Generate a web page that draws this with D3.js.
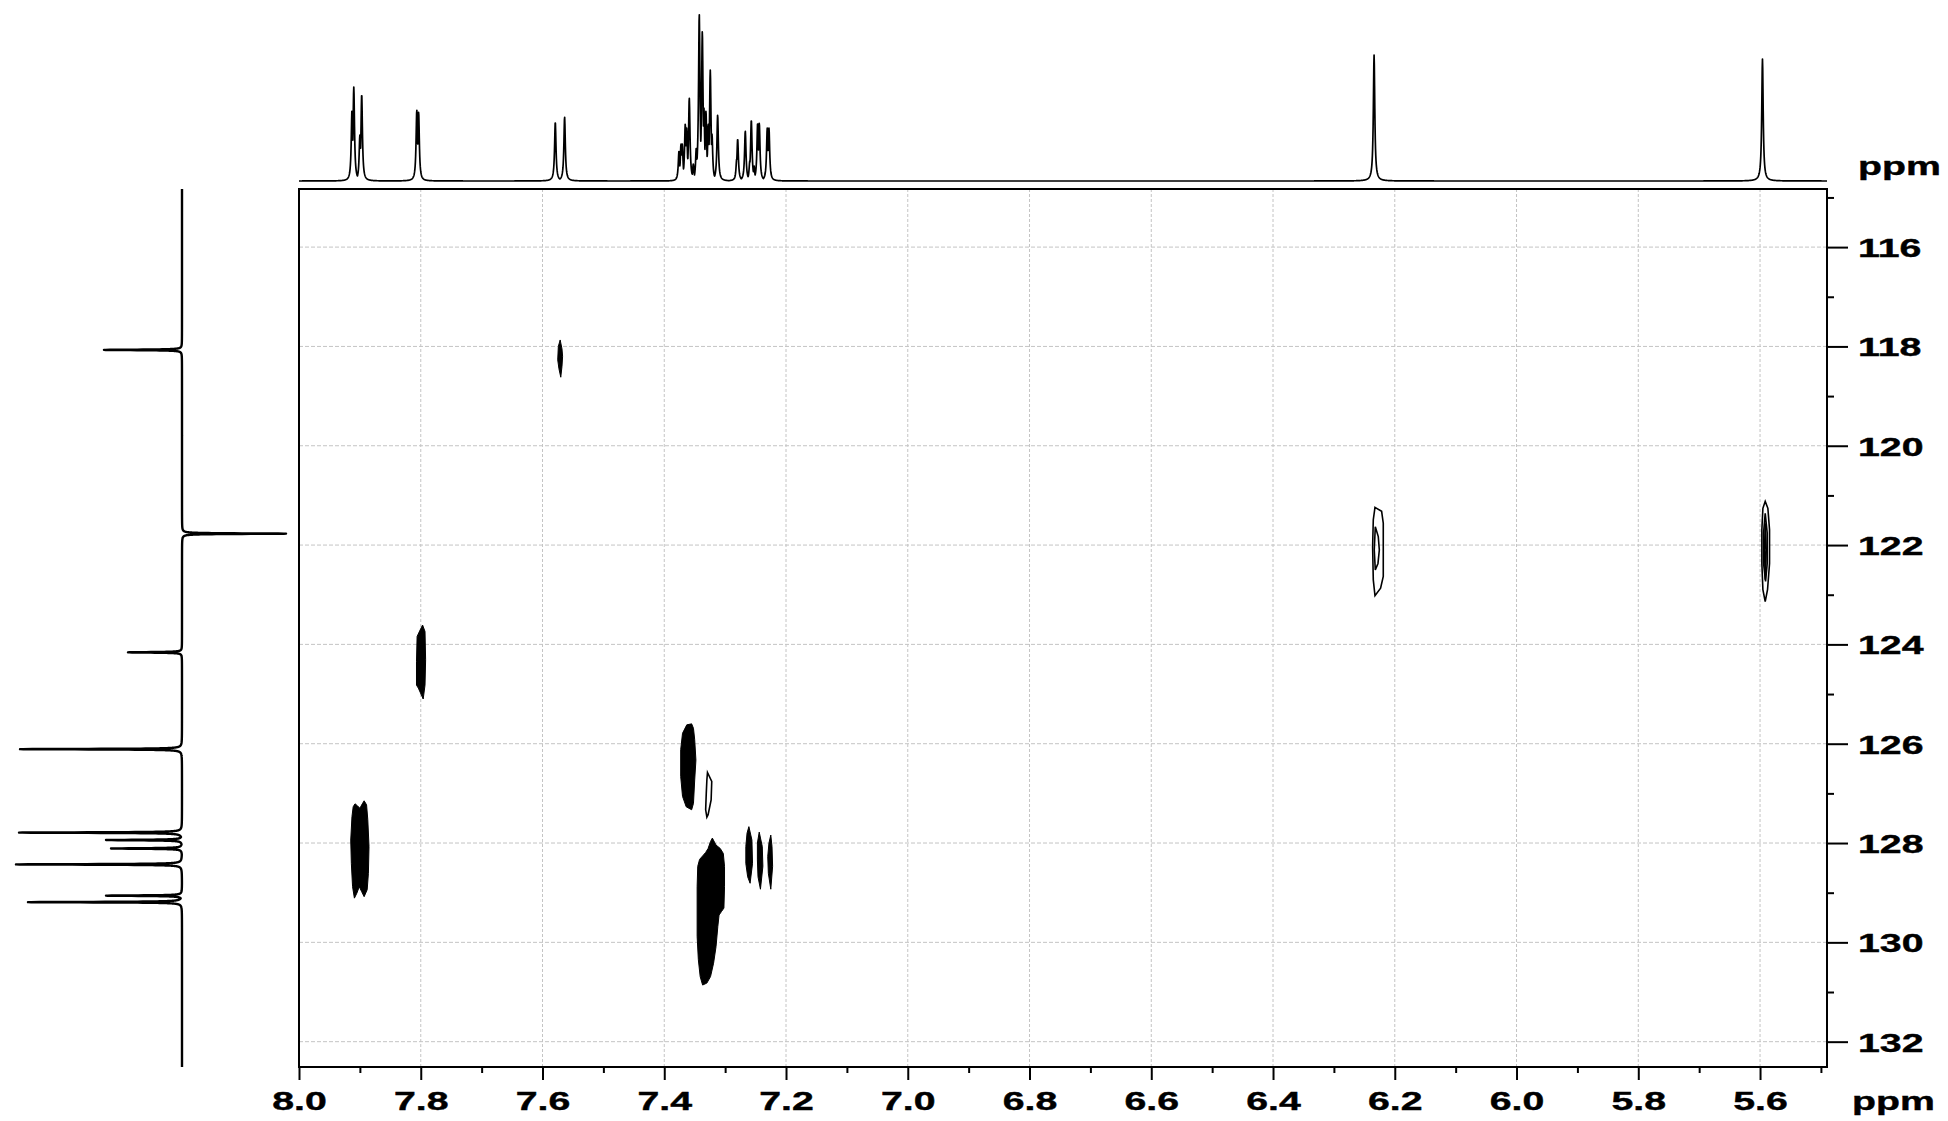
<!DOCTYPE html>
<html><head><meta charset="utf-8">
<script src="https://cdn.jsdelivr.net/npm/d3@7"></script>
<style>
html,body{margin:0;padding:0;background:#fff;}
svg{display:block;}
</style>
</head><body>
<svg id="chart" width="1948" height="1121"></svg>
<script>
// ---------- DATA ----------
const xTickValues = [8.0,7.8,7.6,7.4,7.2,7.0,6.8,6.6,6.4,6.2,6.0,5.8,5.6];
const xMinorValues = [7.9,7.7,7.5,7.3,7.1,6.9,6.7,6.5,6.3,6.1,5.9,5.7,5.5];
const yTickValues = [116,118,120,122,124,126,128,130,132];
const yMinorValues = [115,117,119,121,123,125,127,129,131];
const axisUnit = "ppm";

// 1H projection (top): [ppm, relative intensity]
const protonPeaks = [
  [7.913,71],[7.910,94],[7.900,46],[7.897,87],
  [7.8065,71],[7.8035,69],
  [7.579,59],[7.5637,64],
  [7.3758,30],[7.3725,37],[7.3704,37],[7.3655,57],[7.3632,53],[7.3589,83],
  [7.3523,17],[7.3474,33],[7.3425,167],[7.3375,150],[7.3348,73],[7.3315,70],
  [7.3277,57],[7.3244,111],[7.3216,47],[7.3123,66],
  [7.2810,22],[7.2794,42],[7.2680,15],[7.2669,50],[7.2595,20],[7.2570,61],
  [7.2525,15],[7.2466,58],[7.2439,58],[7.2308,53],[7.2280,53],
  [6.234,126],[5.596,122]
];
// 13C projection (left): [ppm, relative intensity] (negative = opposite phase)
const carbonPeaks = [
  [118.07,78],[121.77,-104],[124.16,54],[126.11,162],[127.79,163],
  [127.94,76],[128.11,71],[128.43,166],[129.06,76],[129.19,154]
];

// Filled cross-peak contours: arrays of [1H ppm, 13C ppm]
const filledContours = [
  [[7.911,127.27],[7.908,127.21],[7.904,127.25],[7.900,127.30],[7.896,127.21],[7.893,127.15],[7.889,127.23],[7.887,127.53],[7.885,128.07],[7.886,128.61],[7.888,128.94],[7.893,129.08],[7.897,128.98],[7.901,128.88],[7.905,129.01],[7.909,129.11],[7.912,128.88],[7.914,128.41],[7.915,127.94],[7.913,127.47]],
  [[7.571,117.87],[7.568,118.05],[7.567,118.20],[7.568,118.40],[7.570,118.62],[7.573,118.45],[7.575,118.27],[7.574,118.00]],
  [[7.797,123.61],[7.793,123.74],[7.792,124.31],[7.793,124.82],[7.796,125.10],[7.804,124.88],[7.807,124.82],[7.807,124.35],[7.806,123.84],[7.801,123.71]],
  [[7.355,125.60],[7.363,125.62],[7.370,125.79],[7.373,126.12],[7.373,126.66],[7.370,127.06],[7.364,127.27],[7.355,127.33],[7.352,127.20],[7.350,126.73],[7.348,126.33],[7.350,125.92],[7.352,125.69]],
  [[7.321,127.90],[7.315,128.04],[7.308,128.11],[7.303,128.21],[7.301,128.47],[7.301,128.88],[7.302,129.31],[7.306,129.38],[7.310,129.45],[7.312,129.68],[7.315,130.09],[7.319,130.42],[7.324,130.69],[7.330,130.82],[7.337,130.86],[7.341,130.69],[7.344,130.35],[7.346,129.88],[7.346,128.88],[7.345,128.47],[7.342,128.33],[7.337,128.26],[7.332,128.19],[7.328,128.11],[7.324,127.97]],
  [[7.261,127.67],[7.256,127.94],[7.255,128.41],[7.259,128.81],[7.263,128.68],[7.266,128.41],[7.266,128.07],[7.264,127.80]],
  [[7.244,127.78],[7.239,128.07],[7.238,128.47],[7.242,128.93],[7.246,128.68],[7.247,128.34],[7.247,128.00]],
  [[7.225,127.84],[7.223,128.07],[7.222,128.47],[7.225,128.93],[7.229,128.61],[7.230,128.27],[7.228,128.00]]
];
// Outline-only contours
const openContours = [
  [[7.329,126.58],[7.322,126.76],[7.323,127.13],[7.328,127.43],[7.330,127.48],[7.332,127.33],[7.331,127.00],[7.330,126.73]],
  [[6.2325,121.24],[6.2216,121.32],[6.2189,121.56],[6.2189,122.63],[6.2233,122.87],[6.2325,123.02],[6.2353,122.70],[6.2364,122.03],[6.2353,121.49]],
  [[6.2320,121.63],[6.2271,121.83],[6.2254,122.10],[6.2276,122.37],[6.2320,122.50],[6.2337,122.10]],
  [[5.5915,121.12],[5.5871,121.26],[5.5844,121.69],[5.5844,122.37],[5.5877,122.90],[5.5915,123.14],[5.5953,122.90],[5.5970,122.37],[5.5970,121.69],[5.5953,121.26]],
  [[5.5915,121.36],[5.5882,121.76],[5.5882,122.37],[5.5909,122.73],[5.5942,122.37],[5.5942,121.76]],
  [[5.5915,121.56],[5.5898,122.10],[5.5915,122.70],[5.5926,122.10]]
];

// ---------- LAYOUT ----------
const svg = d3.select("#chart");
const L = 299, R = 1827, T = 189, B = 1067;
const x = d3.scaleLinear().domain([8.0, 5.49]).range([L, R]);
const y = d3.scaleLinear().domain([114.83, 132.51]).range([T, B]);
const topI = d3.scaleLinear().domain([0, 168]).range([181, 13]);
const leftI = d3.scaleLinear().domain([0, 166]).range([182, 16]);
const FONT = "'Liberation Sans', Arial, sans-serif";
const SX = 1.57;

svg.append("rect").attr("width",1948).attr("height",1121).attr("fill","#fff");

// grid
const grid = svg.append("g");
grid.selectAll("line.gx").data(xTickValues.filter(v => v < 8.0)).join("line")
  .attr("x1", d => x(d)).attr("x2", d => x(d)).attr("y1", T).attr("y2", B)
  .attr("stroke", "#c4c4c4").attr("stroke-width", 1).attr("stroke-dasharray", "3,2");
grid.selectAll("line.gy").data(yTickValues).join("line")
  .attr("y1", d => y(d)).attr("y2", d => y(d)).attr("x1", L).attr("x2", R)
  .attr("stroke", "#c4c4c4").attr("stroke-width", 1).attr("stroke-dasharray", "4,2");

// contours
const cline = d3.line().x(d => x(d[0])).y(d => y(d[1])).curve(d3.curveLinearClosed);
svg.append("g").selectAll("path").data(filledContours).join("path")
  .attr("d", cline).attr("fill", "#000").attr("stroke", "#000").attr("stroke-width", 1);
svg.append("g").selectAll("path").data(openContours).join("path")
  .attr("d", cline).attr("fill", "none").attr("stroke", "#000").attr("stroke-width", 1.6);

// 1H projection
const hw = 0.0014;
const topPts = [];
for (let p = 8.0; p >= 5.49; p -= 0.0004) {
  let v = 0;
  for (const [p0, h] of protonPeaks) {
    const d = (p - p0) / hw;
    const c = h / (1 + d * d);
    if (c > v) v = c;
  }
  topPts.push([p, v]);
}
svg.append("path").datum(topPts)
  .attr("d", d3.line().x(d => x(d[0])).y(d => topI(d[1])))
  .attr("fill", "none").attr("stroke", "#000").attr("stroke-width", 1.7).attr("stroke-linejoin","round");

// 13C projection
const cw = 0.007;
const leftPts = [];
for (let c = 114.83; c <= 132.51; c += 0.001) {
  let v = 0;
  for (const [c0, h] of carbonPeaks) {
    const d = (c - c0) / cw;
    const s = h / (1 + d * d);
    if (Math.abs(s) > Math.abs(v)) v = s;
  }
  leftPts.push([c, v]);
}
svg.append("path").datum(leftPts)
  .attr("d", d3.line().x(d => leftI(d[1])).y(d => y(d[0])))
  .attr("fill", "none").attr("stroke", "#000").attr("stroke-width", 2.4).attr("stroke-linejoin","round");

// frame
svg.append("rect").attr("x", L).attr("y", T).attr("width", R - L).attr("height", B - T)
  .attr("fill", "none").attr("stroke", "#000").attr("stroke-width", 2);

// bottom axis
const ax = svg.append("g").attr("transform", `translate(0,${B})`)
  .call(d3.axisBottom(x).tickValues(xTickValues).tickFormat(d3.format(".1f")).tickSize(13).tickSizeOuter(0));
ax.select(".domain").remove();
ax.selectAll(".tick line").attr("stroke", "#000").attr("stroke-width", 2);
ax.selectAll(".tick text").attr("y", 43).attr("dy", 0)
  .attr("font-family", FONT).attr("font-weight", "bold").attr("font-size", 25).attr("fill", "#000")
  .attr("stroke", "#000").attr("stroke-width", 0.4)
  .attr("transform", `scale(${SX},1)`);
svg.append("g").attr("transform", `translate(0,${B})`)
  .call(d3.axisBottom(x).tickValues(xMinorValues).tickFormat("").tickSize(6).tickSizeOuter(0))
  .call(g => g.select(".domain").remove())
  .selectAll(".tick line").attr("stroke", "#000").attr("stroke-width", 2);

// right axis
const ay = svg.append("g").attr("transform", `translate(${R},0)`)
  .call(d3.axisRight(y).tickValues(yTickValues).tickFormat(d3.format("d")).tickSize(21).tickSizeOuter(0));
ay.select(".domain").remove();
ay.selectAll(".tick line").attr("stroke", "#000").attr("stroke-width", 2);
ay.selectAll(".tick text").attr("x", 31 / SX).attr("dy", "0.38em")
  .attr("font-family", FONT).attr("font-weight", "bold").attr("font-size", 25).attr("fill", "#000")
  .attr("stroke", "#000").attr("stroke-width", 0.4)
  .attr("transform", `scale(${SX},1)`);
svg.append("g").attr("transform", `translate(${R},0)`)
  .call(d3.axisRight(y).tickValues(yMinorValues).tickFormat("").tickSize(7).tickSizeOuter(0))
  .call(g => g.select(".domain").remove())
  .selectAll(".tick line").attr("stroke", "#000").attr("stroke-width", 2);

// unit labels
[[1858, 175], [1852, 1110]].forEach(([tx, ty]) => {
  svg.append("text").attr("transform", `translate(${tx},${ty}) scale(${SX},1)`)
    .attr("font-family", FONT).attr("font-weight", "bold").attr("font-size", 25).attr("fill", "#000")
    .attr("stroke", "#000").attr("stroke-width", 0.4)
    .text(axisUnit);
});
</script>
</body></html>
